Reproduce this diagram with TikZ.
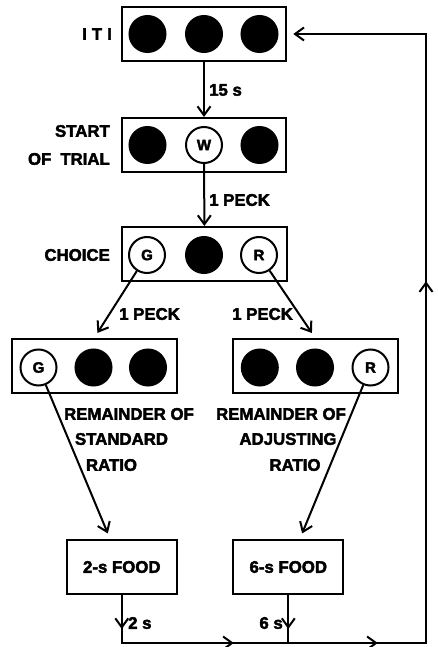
\documentclass[tikz,border=0pt]{standalone}
\usepackage{fontspec}
\setmainfont{Liberation Sans}[BoldFeatures={FakeBold=2.5}]
\usetikzlibrary{arrows.meta,decorations.markings}
\newcommand\dgmtext{\fontsize{16.8}{19}\selectfont\bfseries}
\newcommand\dgmkey{\fontsize{15}{15}\selectfont\bfseries}
\tikzset{
  barb/.tip={Straight Barb[length=9pt,width=13pt]},
  wire/.style={line width=2pt},
  arr/.style={wire, -barb},
  panel/.style={draw, line width=2pt, minimum width=164.6pt, minimum height=54pt, inner sep=0pt},
  foodbox/.style={draw, line width=2pt, minimum width=109.7pt, minimum height=54pt, inner sep=0pt, font=\dgmtext},
  keylit/.style={circle, draw, line width=2pt, minimum size=36pt, inner sep=0pt, font=\dgmkey},
  keydark/.style={keylit, fill=black},
  lbl/.style={inner sep=0pt, font=\dgmtext},
}
\begin{document}
\begin{tikzpicture}[x=1pt, y=-1pt]
\useasboundingbox (0,0) rectangle (438,647);

% inter-trial interval: all keys dark
\node[panel] (iti) at (204,34) {};
\node[keydark] (iti1) at (147.5,34) {};
\node[keydark] (iti2) at (204,34) {};
\node[keydark] (iti3) at (259.5,34) {};
\node[lbl, anchor=east] (itil) at (112,34) {I\kern5pt T\kern5pt I};

% start of trial: centre key white
\node[panel] (start) at (204,145) {};
\node[keydark] (st1) at (147.5,145) {};
\node[keylit] (stw) at (204,145) {W};
\node[keydark] (st3) at (259.5,145) {};
\node[lbl, anchor=east] (startl1) at (110,131) {START};
\node[lbl, anchor=east] (startl2) at (110,159) {OF\hspace{9pt}TRIAL};

% choice phase: green and red side keys
\node[panel] (choice) at (204.5,254) {};
\node[keylit] (chg) at (147,255) {G};
\node[keydark] (ch2) at (204,255) {};
\node[keylit] (chr) at (259,255) {R};
\node[lbl, anchor=east] (choicel) at (110,255) {CHOICE};

% standard and adjusting ratios
\node[panel] (stdbox) at (94.2,366) {};
\node[keylit] (sg) at (38.5,367.5) {G};
\node[keydark] (s2) at (93.5,367.5) {};
\node[keydark] (s3) at (148,367.5) {};

\node[panel] (adjbox) at (315.3,366) {};
\node[keydark] (a1) at (259.8,367.5) {};
\node[keydark] (a2) at (315,367.5) {};
\node[keylit] (ar) at (370.5,367.5) {R};

\node[lbl] (rem1) at (129,414) {REMAINDER OF};
\node[lbl] (rem2) at (121.5,439) {STANDARD};
\node[lbl] (rem3) at (111.5,465) {RATIO};
\node[lbl] (radj1) at (281,414) {REMAINDER OF};
\node[lbl] (radj2) at (288,439) {ADJUSTING};
\node[lbl] (radj3) at (295,465) {RATIO};

% reinforcers
\node[foodbox] (food1) at (121.8,567) {2-s FOOD};
\node[foodbox] (food2) at (288.3,567) {6-s FOOD};

% transitions
\draw[arr] (iti) -- (start);
\node[lbl, anchor=west] (t15) at (209,90) {15 s};
\draw[arr] (stw) -- (choice);
\node[lbl, anchor=west] (tpeck) at (209,200) {1 PECK};
\draw[arr, shorten >=6pt] (chg) -- (stdbox.north);
\draw[arr, shorten >=6pt] (chr) -- (adjbox.north);
\node[lbl, anchor=west] (tpeckl) at (119,314) {1 PECK};
\node[lbl, anchor=west] (tpeckr) at (232,314) {1 PECK};
\draw[arr, shorten >=6pt] (sg) -- (food1);
\draw[arr, shorten >=6pt] (ar) -- (food2);

% return loop to the inter-trial interval
\coordinate (j1) at (121.8,643);
\coordinate (j2) at (288.3,643);
\coordinate (c1) at (426,643);
\coordinate (c2) at (426,34);
\draw[arr, shorten >=6pt, line join=miter,
  postaction={decorate, decoration={markings,
    mark=at position 34pt with {\arrow{barb}},
    mark=at position 160pt with {\arrow{barb}},
    mark=at position 304pt with {\arrow{barb}},
    mark=at position 714pt with {\arrow{barb}}}}]
  (food1) -- (j1) -- (c1) -- (c2) -- (iti);
\draw[wire, postaction={decorate, decoration={markings,
    mark=at position 34pt with {\arrow{barb}}}}]
  (food2) -- (j2);
\node[lbl, anchor=west] (t2s) at (128,623) {2 s};
\node[lbl, anchor=east] (t6s) at (283,623) {6 s};
\end{tikzpicture}
\end{document}
